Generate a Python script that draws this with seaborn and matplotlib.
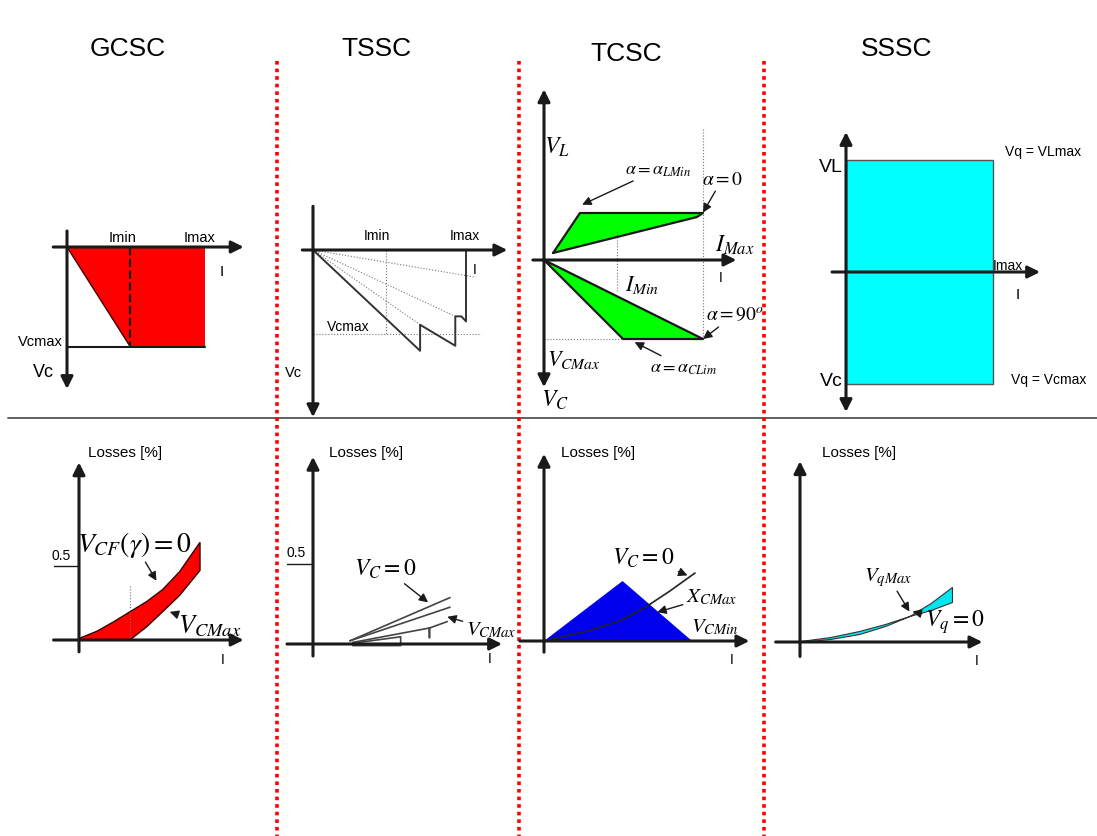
import numpy as np
import pandas as pd
import seaborn as sns
import matplotlib.pyplot as plt

W, H = 1097, 837

# ---- page layout ----
titles = ["GCSC", "TSSC", "TCSC", "SSSC"]
title_x = [128, 376, 626, 897]
title_y = [49, 49, 54, 49]
divider_x = [277, 519, 764]

# ---- GCSC V-I (I in Imax units, V in Vcmax units) ----
gcsc_area_i = [0, 1, 1, 0.46]
gcsc_area_v = [0, 0, -1, -1]
gcsc_imin = 0.46

# ---- TSSC V-I ----
tssc_saw_i = [0, 0.70, 0.70, 0.93, 0.93, 0.97, 1.0, 1.0]
tssc_saw_v = [0, -1.20, -0.89, -1.14, -0.79, -0.79, -0.85, 0]
tssc_ray_i = [1.05, 0.93, 0.70]
tssc_ray_v = [-0.32, -0.79, -0.89]
tssc_imin = 0.48

# ---- TCSC V-I ----
tcsc_ind_i = [0.057, 0.226, 1.0, 0.962]
tcsc_ind_v = [0.089, 0.595, 0.595, 0.544]
tcsc_cap_i = [0, 0.497, 1.0]
tcsc_cap_v = [0, -1.0, -1.0]
tcsc_imin = 0.46

# ---- SSSC V-I ----
sssc_area_i = [0, 1, 1, 0]
sssc_area_v = [1, 1, -1, -1]

# ---- losses curves ----
gcsc_up_i = [0, 0.15, 0.28, 0.42, 0.56, 0.69, 0.83, 1.0]
gcsc_up_l = [0.01, 0.06, 0.12, 0.19, 0.26, 0.34, 0.46, 0.66]
gcsc_lo_i = [0, 0.42, 0.56, 0.69, 0.83, 1.0]
gcsc_lo_l = [0, 0, 0.09, 0.19, 0.30, 0.47]

tssc_l1_i, tssc_l1_l = [0.27, 1.0], [0.02, 0.29]
tssc_l2_i, tssc_l2_l = [0.27, 1.0], [0.02, 0.23]
tssc_l3_i, tssc_l3_l = [0.29, 0.85, 0.85, 0.85, 0.98], [0.01, 0.10, 0.04, 0.10, 0.14]
tssc_l4_i, tssc_l4_l = [0.29, 0.64, 0.64, 0.29], [0.005, 0.045, -0.01, -0.01]

tcsc_tri_i = [0, 0.52, 0.98]
tcsc_tri_l = [0, 0.375, 0]
tcsc_vc0_i = [0, 0.28, 0.50, 0.67, 0.83, 1.0]
tcsc_vc0_l = [0, 0.06, 0.125, 0.21, 0.31, 0.425]

sssc_i = [0, 0.20, 0.39, 0.56, 0.72, 0.86, 1.0]
sssc_max_l = [0.006, 0.031, 0.069, 0.1125, 0.1625, 0.20, 0.25]
sssc_zero_l = [0, 0.019, 0.05, 0.10, 0.1625, 0.244, 0.344]

sns.set_theme(style="white")
plt.rcParams['font.family'] = ['Liberation Sans', 'DejaVu Sans']
plt.rcParams['mathtext.fontset'] = 'stix'
plt.rcParams['text.color'] = 'black'

fig = plt.figure(figsize=(W / 100, H / 100), dpi=100)
fig.patch.set_facecolor('white')

bg = fig.add_axes([0, 0, 1, 1])
bg.set_xlim(0, W)
bg.set_ylim(H, 0)
bg.axis('off')
for t, x, y in zip(titles, title_x, title_y):
    bg.text(x, y, t, ha='center', va='center', fontsize=19)
bg.plot([8, W], [419, 419], color='#555555', lw=1.3)
for x in divider_x:
    bg.plot([x, x], [62, H], color='#ff0000', lw=2.6, ls=(0, (1, 1.1)))


def panel(ox, oy, sx, sy, xlim, ylim):
    left = ox + xlim[0] * sx
    right = ox + xlim[1] * sx
    top = oy - ylim[1] * sy
    bottom = oy - ylim[0] * sy
    ax = fig.add_axes([left / W, 1 - bottom / H, (right - left) / W, (bottom - top) / H])
    ax.set_xlim(xlim)
    ax.set_ylim(ylim)
    ax.axis('off')
    return ax


def arrow(ax, start, end, style='-|>', lw=2.2, ms=18):
    ax.annotate('', xy=end, xytext=start, annotation_clip=False,
                arrowprops=dict(arrowstyle=style, color='k', lw=lw,
                                mutation_scale=ms, shrinkA=0, shrinkB=0))


def line(ax, i, v, color='k', lw=1.2, ls='-'):
    sns.lineplot(x=i, y=v, sort=False, estimator=None, ax=ax, legend=False,
                 color=color, lw=lw, ls=ls)


def dotted(ax, i, v):
    line(ax, i, v, color='#777777', lw=0.8, ls=':')


def note(ax, s, xy, xytext, size=15):
    ax.annotate(s, xy=xy, xytext=xytext, ha='center', va='center', fontsize=size,
                annotation_clip=False,
                arrowprops=dict(arrowstyle='-|>', color='k', lw=1.0, mutation_scale=13,
                                shrinkA=0, shrinkB=0))


# ===== GCSC top =====
ax = panel(67, 248, 138, 100, (-0.1, 1.28), (-1.42, 0.16))
ax.fill(gcsc_area_i, gcsc_area_v, color='#ff0000', lw=0)
line(ax, [0, gcsc_imin], [0, -1], color='#400000', lw=1.0)
line(ax, [0, 1], [-1, -1], lw=1.5)
line(ax, [gcsc_imin, gcsc_imin], [0, -1], lw=1.6, ls='--')
arrow(ax, (-0.1, 0), (1.28, 0))
arrow(ax, (0, 0.16), (0, -1.42))
ax.text(0.40, 0.03, "Imin", ha='center', va='bottom', fontsize=10.5)
ax.text(0.96, 0.03, "Imax", ha='center', va='bottom', fontsize=10.5)
ax.text(1.12, -0.24, "I", ha='center', va='center', fontsize=11)
ax.text(-0.03, -0.94, "Vcmax", ha='right', va='center', fontsize=10.5)
ax.text(-0.17, -1.25, "Vc", ha='center', va='center', fontsize=13)

# ===== TSSC top =====
ax = panel(313, 251, 153, 84, (-0.07, 1.27), (-1.99, 0.52))
for ri, rv in zip(tssc_ray_i, tssc_ray_v):
    dotted(ax, [0, ri], [0, rv])
dotted(ax, [tssc_imin, tssc_imin], [0, -1])
dotted(ax, [0, 1.10], [-1, -1])
line(ax, tssc_saw_i, tssc_saw_v, color='#333333', lw=1.4)
arrow(ax, (-0.07, 0), (1.27, 0))
arrow(ax, (0, 0.52), (0, -1.99))
ax.text(0.42, 0.1, "Imin", ha='center', va='bottom', fontsize=10)
ax.text(0.99, 0.1, "Imax", ha='center', va='bottom', fontsize=10)
ax.text(1.06, -0.23, "I", ha='center', va='center', fontsize=10)
ax.text(0.23, -0.90, "Vcmax", ha='center', va='center', fontsize=10)
ax.text(-0.13, -1.45, "Vc", ha='center', va='center', fontsize=10.5)

# ===== TCSC top =====
ax = panel(544, 261, 159, 79, (-0.07, 1.21), (-1.61, 2.16))
dotted(ax, [1.0, 1.0], [1.66, -1.0])
dotted(ax, [tcsc_imin, tcsc_imin], [0.37, -0.41])
dotted(ax, [0, 0.497], [-1.0, -1.0])
ax.fill(tcsc_ind_i, tcsc_ind_v, color='#00ff00', lw=0)
ax.fill(tcsc_cap_i, tcsc_cap_v, color='#00ff00', lw=0)
line(ax, tcsc_ind_i + tcsc_ind_i[:1], tcsc_ind_v + tcsc_ind_v[:1], lw=1.6)
line(ax, tcsc_cap_i + [0], tcsc_cap_v + [0], lw=1.6)
arrow(ax, (-0.07, 0), (1.21, 0))
arrow(ax, (0, 2.16), (0, -1.61), style='<|-|>')
ax.text(0.08, 1.44, "$V_L$", ha='center', va='center', fontsize=17)
note(ax, r"$\alpha=\alpha_{LMin}$", (0.24, 0.70), (0.72, 1.15), size=13)
note(ax, r"$\alpha=0$", (1.0, 0.60), (1.12, 1.02), size=14)
ax.text(1.2, 0.20, "$I_{Max}$", ha='center', va='center', fontsize=17)
ax.text(1.11, -0.22, "I", ha='center', va='center', fontsize=10)
ax.text(0.62, -0.30, "$I_{Min}$", ha='center', va='center', fontsize=16)
note(ax, r"$\alpha=90^o$", (1.0, -1.0), (1.2, -0.69), size=14)
ax.text(0.19, -1.25, "$V_{CMax}$", ha='center', va='center', fontsize=16)
note(ax, r"$\alpha=\alpha_{CLim}$", (0.57, -1.04), (0.88, -1.36), size=13)
ax.text(0.07, -1.76, "$V_C$", ha='center', va='center', fontsize=17)

# ===== SSSC top =====
ax = panel(846, 273, 147, 112, (-0.095, 1.32), (-1.25, 1.25))
ax.fill(sssc_area_i, sssc_area_v, facecolor='#00ffff', edgecolor='#555555', lw=1.0)
arrow(ax, (-0.095, 0), (1.32, 0))
arrow(ax, (0, 1.25), (0, -1.25), style='<|-|>')
ax.text(-0.02, 0.94, "VL", ha='right', va='center', fontsize=14)
ax.text(-0.02, -0.97, "Vc", ha='right', va='center', fontsize=14)
ax.text(1.0, 0.0, "Imax", ha='left', va='bottom', fontsize=10)
ax.text(1.17, -0.20, "I", ha='center', va='center', fontsize=11)
ax.text(1.08, 1.08, "Vq = VLmax", ha='left', va='center', fontsize=10)
ax.text(1.12, -0.955, "Vq = Vcmax", ha='left', va='center', fontsize=10)


# ===== losses panels =====
def losses_axes(ax, xlim, ylim, label_xy, i_pos):
    arrow(ax, (xlim[0], 0), (xlim[1], 0))
    arrow(ax, (0, ylim[0]), (0, ylim[1]))
    ax.text(label_xy[0], label_xy[1], "Losses [%]", ha='center', va='center', fontsize=11)
    ax.text(i_pos[0], i_pos[1], "I", ha='center', va='center', fontsize=10)


def half_tick(ax, x0):
    line(ax, [x0, 0], [0.5, 0.5], lw=1.0)
    ax.text(x0 / 2 - 0.02, 0.53, "0.5", ha='center', va='bottom', fontsize=10)


# GCSC losses
ax = panel(79, 641, 121, 148, (-0.21, 1.36), (-0.08, 1.2))
ax.fill(gcsc_up_i + gcsc_lo_i[::-1], gcsc_up_l + gcsc_lo_l[::-1],
        facecolor='#ff0000', edgecolor='#330000', lw=1.0)
dotted(ax, [0.42, 0.42], [0, 0.38])
losses_axes(ax, (-0.21, 1.36), (-0.08, 1.2), (0.38, 1.27), (1.19, -0.13))
half_tick(ax, -0.26)
note(ax, r"$V_{CF}(\gamma)=0$", (0.64, 0.40), (0.46, 0.65), size=20)
note(ax, r"$V_{CMax}$", (0.75, 0.19), (1.08, 0.10), size=19)

# TSSC losses
ax = panel(313, 645, 137, 160, (-0.19, 1.38), (-0.075, 1.17))
for li, ll in [(tssc_l1_i, tssc_l1_l), (tssc_l2_i, tssc_l2_l),
               (tssc_l3_i, tssc_l3_l), (tssc_l4_i, tssc_l4_l)]:
    line(ax, li, ll, color='#444444', lw=1.2)
losses_axes(ax, (-0.19, 1.38), (-0.075, 1.17), (0.39, 1.20), (1.29, -0.09))
half_tick(ax, -0.2)
note(ax, r"$V_C=0$", (0.84, 0.26), (0.53, 0.47), size=17)
note(ax, r"$V_{CMax}$", (0.98, 0.17), (1.3, 0.09), size=15)

# TCSC losses
ax = panel(544, 642, 151, 160, (-0.16, 1.36), (-0.07, 1.17))
ax.fill(tcsc_tri_i, tcsc_tri_l, color='#0000ee', lw=0)
line(ax, tcsc_vc0_i, tcsc_vc0_l, color='#222222', lw=1.2)
losses_axes(ax, (-0.16, 1.36), (-0.07, 1.17), (0.36, 1.18), (1.245, -0.11))
note(ax, r"$V_C=0$", (0.95, 0.41), (0.66, 0.525), size=17)
note(ax, r"$X_{CMax}$", (0.75, 0.18), (1.11, 0.28), size=15)
ax.text(1.13, 0.09, "$V_{CMin}$", ha='center', va='center', fontsize=15)

# SSSC losses
ax = panel(800, 643, 152, 160, (-0.16, 1.20), (-0.09, 1.13))
ax.fill_between(sssc_i, sssc_max_l, sssc_zero_l, facecolor='#00e5ee',
                edgecolor='#333333', lw=0.8)
losses_axes(ax, (-0.16, 1.20), (-0.09, 1.13), (0.39, 1.19), (1.16, -0.11))
note(ax, r"$V_{qMax}$", (0.72, 0.19), (0.58, 0.41), size=15)
note(ax, r"$V_q=0$", (0.74, 0.19), (1.02, 0.13), size=17)

fig.savefig("out.png", dpi=100, facecolor='white')
